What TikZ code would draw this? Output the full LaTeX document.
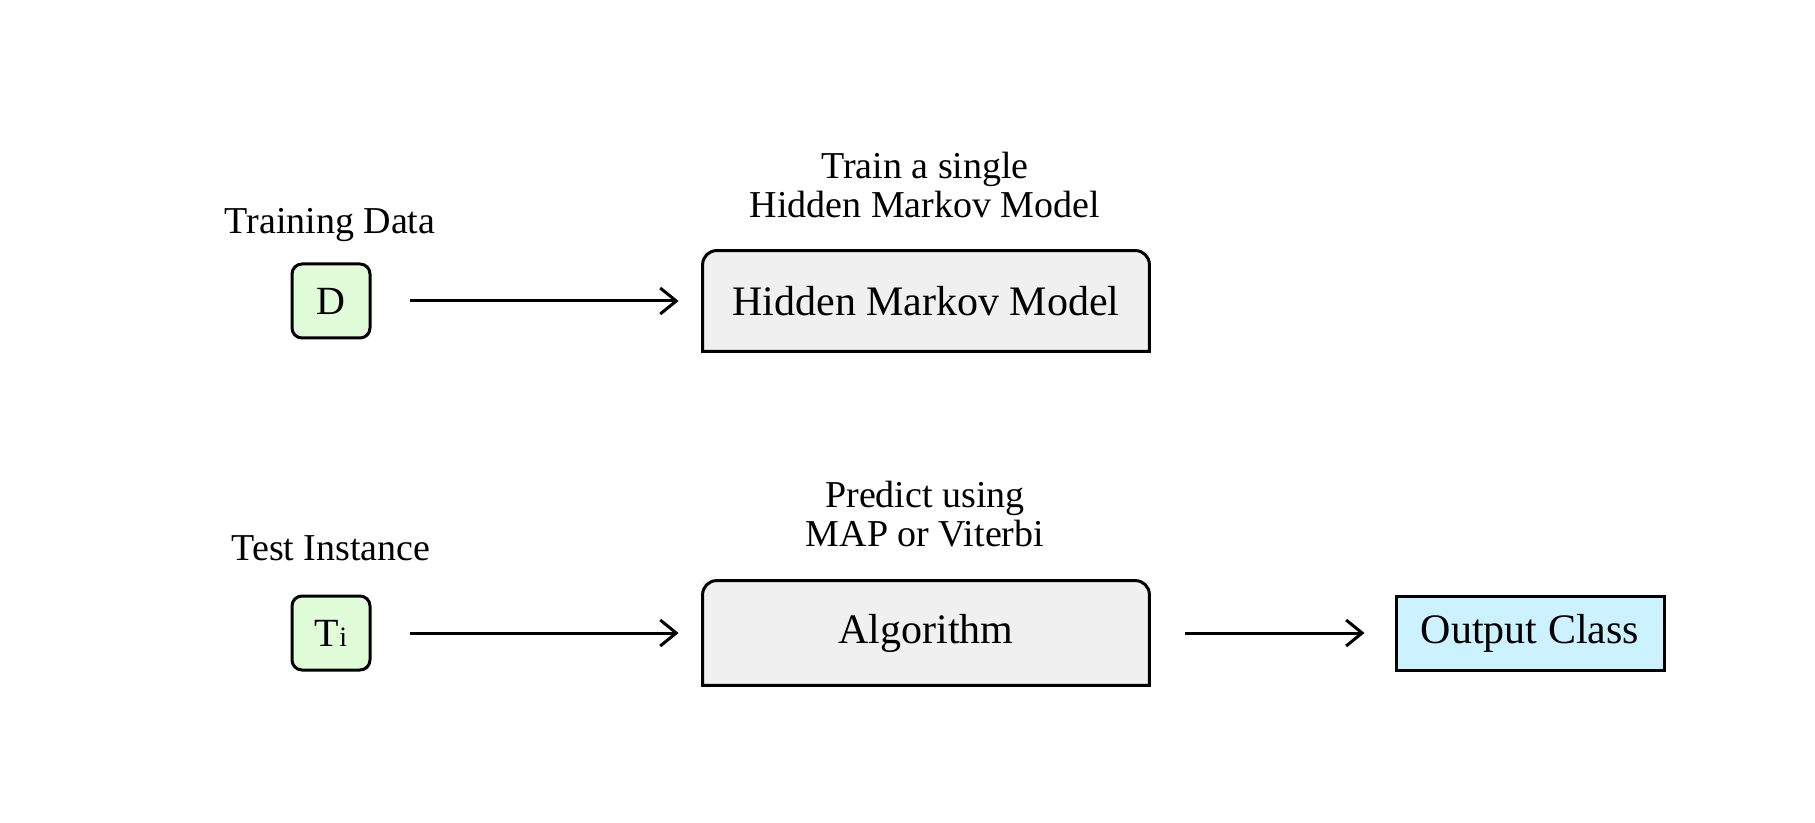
\documentclass[tikz,border=0pt]{standalone}
\usepackage{fontspec}
\setmainfont{Liberation Serif}
\usetikzlibrary{arrows.meta,positioning}
\definecolor{datagreen}{HTML}{E0FCD8}
\definecolor{modelgray}{HTML}{F0F0F0}
\definecolor{outblue}{HTML}{CCF2FF}
\tikzset{
  lbl/.style={align=center,font=\fontsize{19}{19.5}\selectfont},
  inbox/.style={draw,line width=1.5pt,rounded corners=5pt,fill=datagreen,
    minimum width=39pt,minimum height=37pt,inner sep=0pt,font=\fontsize{20}{20}\selectfont},
  modelbox/.style={fill=modelgray,minimum width=223pt,minimum height=50pt,
    inner sep=0pt,font=\fontsize{21}{21}\selectfont},
  outbox/.style={draw,line width=1.5pt,fill=outblue,minimum width=134pt,
    minimum height=37pt,inner sep=0pt,font=\fontsize{21}{21}\selectfont},
  flow/.style={line width=1.5pt,-{Straight Barb[length=8pt,width=13pt]},
    shorten <=19pt,shorten >=12pt}
}
\begin{document}
\begin{tikzpicture}[x=0.5pt,y=-0.5pt]
\useasboundingbox (0,0) rectangle (1815,823);
% training row
\node[lbl] (trainlbl) at (330,225) {Training Data};
\node[inbox] (data) at (331,301) {D};
\node[lbl] (hmmlbl) at (925,185) {Train a single\\Hidden Markov Model};
\node[modelbox] (hmm) at (926,301) {Hidden Markov Model};
\draw[line width=1.5pt] (hmm.south west) [rounded corners=7pt] -- (hmm.north west)
  -- (hmm.north east) [sharp corners] -- (hmm.south east) -- cycle;
\draw[flow] (data) -- (hmm);
% test row
\node[lbl] (testlbl) at (331,548) {Test Instance};
\node[inbox] (inst) at (331,633) {T{\fontsize{14}{14}\selectfont i}};
\node[lbl] (predlbl) at (925,514) {Predict using\\MAP or Viterbi};
\node[modelbox,minimum height=52pt] (algo) at (926,633) {Algorithm};
\draw[line width=1.5pt] (algo.south west) [rounded corners=7pt] -- (algo.north west)
  -- (algo.north east) [sharp corners] -- (algo.south east) -- cycle;
\node[outbox] (cls) at (1530,633) {Output Class};
\draw[flow] (inst) -- (algo);
\draw[flow,shorten <=18pt,shorten >=15pt] (algo) -- (cls);
\end{tikzpicture}
\end{document}
